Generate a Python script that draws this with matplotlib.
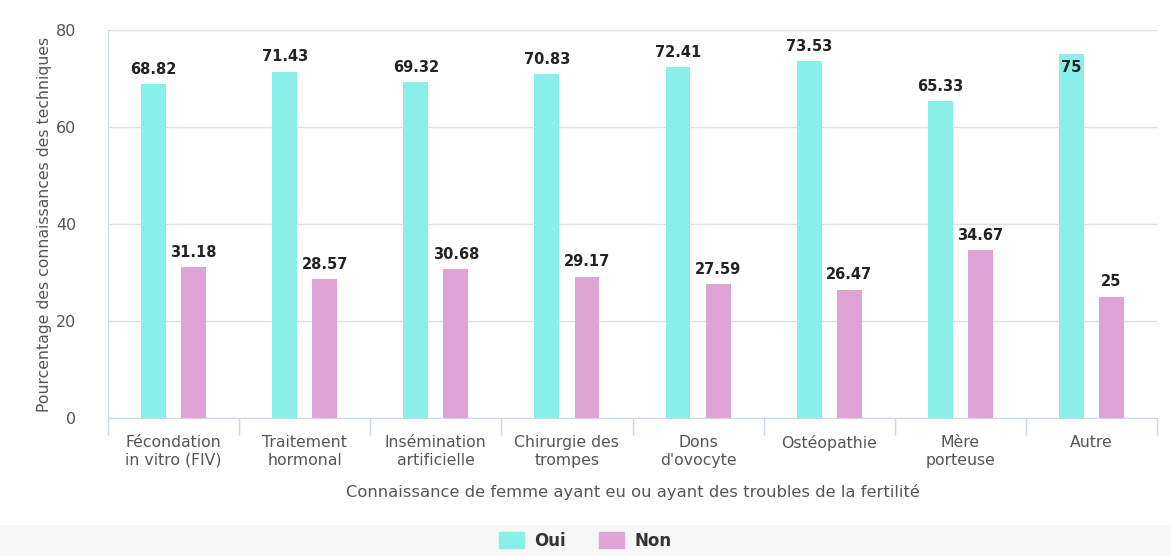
import numpy as np
import matplotlib.pyplot as plt
from matplotlib.patches import Rectangle

categories = ["Fécondation\nin vitro (FIV)", "Traitement\nhormonal", "Insémination\nartificielle",
              "Chirurgie des\ntrompes", "Dons\nd'ovocyte", "Ostéopathie", "Mère\nporteuse", "Autre"]
oui = [68.82, 71.43, 69.32, 70.83, 72.41, 73.53, 65.33, 75]
non = [31.18, 28.57, 30.68, 29.17, 27.59, 26.47, 34.67, 25]
oui_labels = ["68.82", "71.43", "69.32", "70.83", "72.41", "73.53", "65.33", "75"]
non_labels = ["31.18", "28.57", "30.68", "29.17", "27.59", "26.47", "34.67", "25"]

c_oui = "#88f0e8"
c_non = "#dea4d6"
grey = "#555555"

fig = plt.figure(figsize=(11.71, 5.56), dpi=100)
fig.patches.append(Rectangle((0, 0), 1, 31 / 556, transform=fig.transFigure,
                             facecolor="#f7f7f7", edgecolor="none", zorder=0))
ax = fig.add_axes([108 / 1171, 1 - 418 / 556, 1049 / 1171, 388 / 556])

x = np.arange(len(categories))
w = 0.19
off = 0.153
ax.bar(x - off, oui, width=w, color=c_oui, zorder=2)
ax.bar(x + off, non, width=w, color=c_non, zorder=2)

for i in range(len(x)):
    if oui[i] > 74:
        ax.text(x[i] - off, oui[i] - 1.2, oui_labels[i], ha="center", va="top",
                fontsize=10.5, fontweight="bold", color="#222222", zorder=3)
    else:
        ax.text(x[i] - off, oui[i] + 1.5, oui_labels[i], ha="center", va="bottom",
                fontsize=10.5, fontweight="bold", color="#222222", zorder=3)
    ax.text(x[i] + off, non[i] + 1.5, non_labels[i], ha="center", va="bottom",
            fontsize=10.5, fontweight="bold", color="#222222", zorder=3)

ax.set_xlim(-0.5, len(categories) - 0.5)
ax.set_ylim(0, 80)
ax.set_yticks([0, 20, 40, 60, 80])
ax.yaxis.grid(True, color="#e0e0e0", linewidth=1, zorder=0)
ax.set_axisbelow(True)

ax.set_xticks(x)
ax.set_xticklabels(categories, fontsize=11.3, color=grey, linespacing=1.25)
ax.tick_params(axis="x", length=0, pad=12)
ax.set_xticks(np.arange(len(categories) + 1) - 0.5, minor=True)
ax.tick_params(axis="x", which="minor", length=12, color="#ccd6eb", width=1)
ax.tick_params(axis="y", length=0, labelsize=11.5, labelcolor=grey, pad=23)

for s in ["top", "right"]:
    ax.spines[s].set_visible(False)
ax.spines["left"].set_color("#ccd6eb")
ax.spines["bottom"].set_color("#ccd6eb")

ax.set_ylabel("Pourcentage des connaissances des techniques", fontsize=11.3, color=grey, labelpad=3)
ax.set_xlabel("Connaissance de femme ayant eu ou ayant des troubles de la fertilité",
              fontsize=11.8, color=grey, labelpad=12)

h1 = Rectangle((0, 0), 1, 1, color=c_oui)
h2 = Rectangle((0, 0), 1, 1, color=c_non)
fig.legend([h1, h2], ["Oui", "Non"], loc="center", bbox_to_anchor=(0.5, 15 / 556),
           ncol=2, frameon=False, prop={"weight": "bold", "size": 12},
           handlelength=1.5, handleheight=1.1, handletextpad=0.6, columnspacing=2.0,
           labelcolor="#333333")

fig.savefig("out.png", dpi=100)
